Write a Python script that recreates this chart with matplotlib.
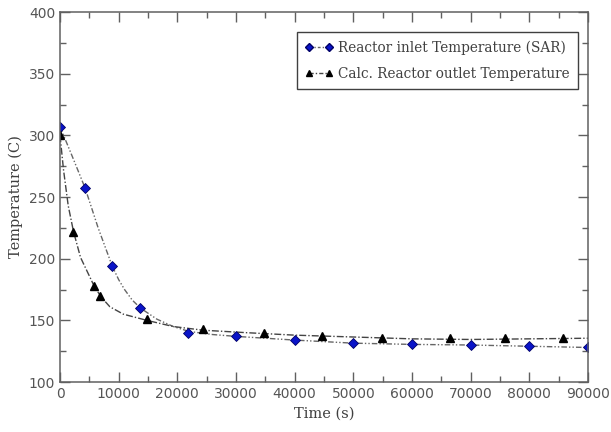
import matplotlib
matplotlib.use("Agg")
import matplotlib.pyplot as plt
from matplotlib.lines import Line2D
from matplotlib.ticker import MultipleLocator

# measured points
inlet_time = [0, 4300, 8900, 13700, 21900, 30000, 40000, 50000, 60000, 70000, 80000, 90000]
inlet_temp = [307, 257, 194, 160, 140, 137, 134, 131.5, 130.5, 130, 129, 128]

outlet_time = [0, 2300, 5800, 6900, 14800, 24400, 34700, 44700, 54900, 66400, 75900, 85800]
outlet_temp = [300, 222, 178, 170, 151, 143, 140, 137.5, 136, 135.5, 135.5, 136]

# smooth fit curves
inlet_fit_time = [0, 2000, 4300, 6500, 8900, 10000, 11000, 12300, 13700, 16500, 19300, 22000,
                  26000, 30000, 40000, 50000, 60000, 70000, 80000, 90000]
inlet_fit_temp = [307, 284, 257, 225, 194, 183, 175, 166.5, 160, 151, 145, 141,
                  138.5, 137, 134, 131.5, 130.5, 130, 129, 128]

outlet_fit_time = [0, 600, 1400, 2300, 3500, 5000, 5800, 7000, 8500, 10800, 14800, 19300,
                   24400, 31800, 40000, 50000, 60000, 70000, 80000, 90000]
outlet_fit_temp = [300, 272, 243, 222, 201, 186, 178, 169, 161, 155, 150, 145,
                   142, 140, 138, 136.5, 135, 134.5, 135, 135.5]

label_font = "DejaVu Serif"
tick_col = "#555555"
spine_col = "#606060"

fig = plt.figure(figsize=(6.11, 4.32), dpi=100)
ax = fig.add_axes([0.0982, 0.1157, 0.8642, 0.8565])

ax.plot(inlet_fit_time, inlet_fit_temp, color="#666666", linewidth=1.0,
        linestyle=(0, (4, 1.5, 1, 1.5, 1, 1.5)))
ax.plot(outlet_fit_time, outlet_fit_temp, color="#444444", linewidth=1.0,
        linestyle=(0, (5, 1.5, 1, 1.5)))

ax.plot(inlet_time, inlet_temp, linestyle="none", marker="D", markersize=5,
        markerfacecolor="#0a14c8", markeredgecolor="#000066", markeredgewidth=0.6)
ax.plot(outlet_time, outlet_temp, linestyle="none", marker="^", markersize=6,
        markerfacecolor="black", markeredgecolor="black")

ax.set_xlim(0, 90000)
ax.set_ylim(100, 400)
ax.xaxis.set_major_locator(MultipleLocator(10000))
ax.xaxis.set_minor_locator(MultipleLocator(5000))
ax.yaxis.set_major_locator(MultipleLocator(50))
ax.yaxis.set_minor_locator(MultipleLocator(25))

ax.tick_params(which="both", direction="in", top=True, right=True,
               color=spine_col, labelcolor=tick_col, labelsize=10)
ax.tick_params(which="major", length=7, width=1.0)
ax.tick_params(which="minor", length=4, width=1.0)
for s in ax.spines.values():
    s.set_color(spine_col)
    s.set_linewidth(1.1)

ax.set_xlabel("Time (s)", fontfamily=label_font, fontsize=10.5, color="#404040", labelpad=4)
ax.set_ylabel("Temperature (C)", fontfamily=label_font, fontsize=10.5, color="#404040", labelpad=4)

handles = [
    Line2D([], [], color="#666666", linewidth=1.0, linestyle=(0, (2, 1.5, 1, 1.5)),
           marker="D", markersize=4, markerfacecolor="#0a14c8", markeredgecolor="#000066"),
    Line2D([], [], color="#444444", linewidth=1.0, linestyle=(0, (3, 1.5, 1, 1.5)),
           marker="^", markersize=5, markerfacecolor="black", markeredgecolor="black"),
]
leg = ax.legend(handles, ["Reactor inlet Temperature (SAR)", "Calc. Reactor outlet Temperature"],
                loc="upper right", bbox_to_anchor=(0.981, 0.946), borderaxespad=0,
                numpoints=2, handlelength=2.1, handletextpad=0.35, fancybox=False,
                borderpad=0.6, labelspacing=0.9,
                framealpha=1, edgecolor="#404040",
                prop={"family": label_font, "size": 9.8})
leg.get_frame().set_linewidth(1.0)
for t in leg.get_texts():
    t.set_color("#404040")

fig.savefig("out.png", dpi=100)
